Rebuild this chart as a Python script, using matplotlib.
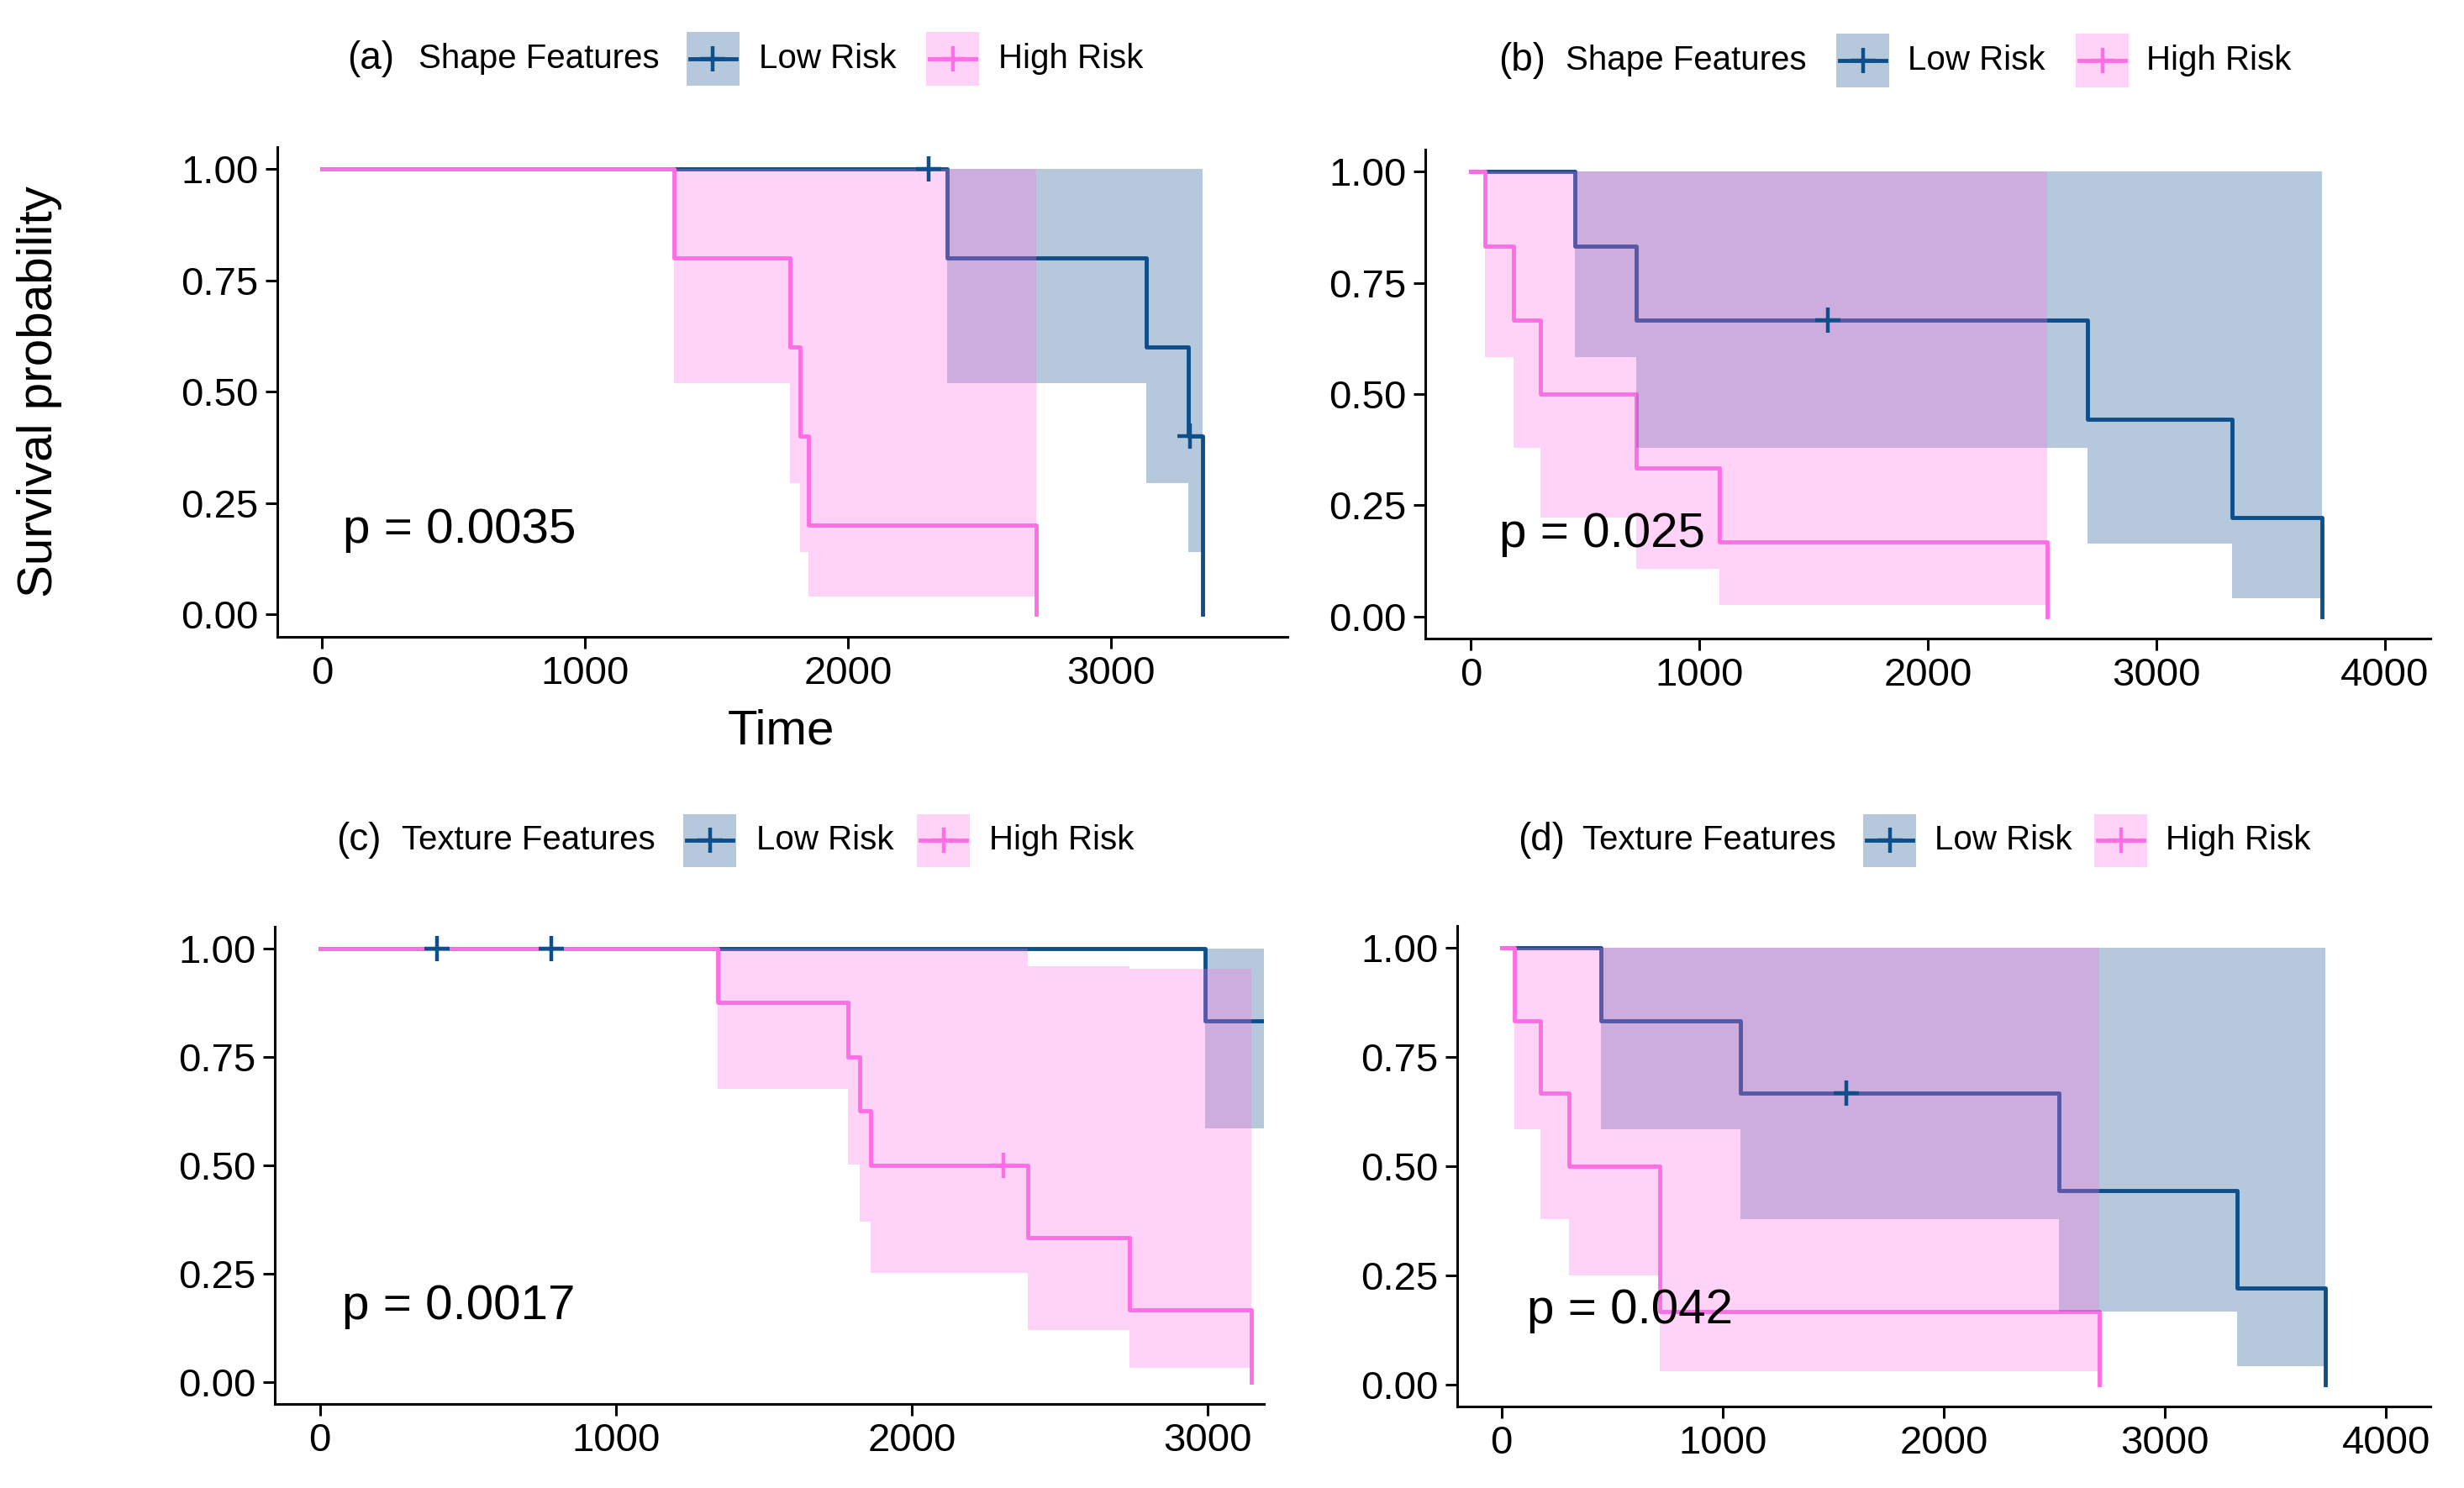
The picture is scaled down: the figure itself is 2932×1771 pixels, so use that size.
import matplotlib
matplotlib.use("Agg")
import matplotlib.pyplot as plt
from matplotlib.patches import Rectangle
from matplotlib.lines import Line2D

plt.rcParams['font.family'] = ['Liberation Sans', 'DejaVu Sans']

# ---- data (time, survival, lower CI, upper CI) ----
# (a) shape features
a_low_t = [0, 2378, 3134, 3295, 3348]
a_low_s = [1, 0.8, 0.6, 0.4, 0]
a_low_lo = [1, 0.52, 0.295, 0.14, 0]
a_low_hi = [1, 1, 1, 1, 0]
a_high_t = [0, 1339, 1779, 1818, 1850, 2715]
a_high_s = [1, 0.8, 0.6, 0.4, 0.2, 0]
a_high_lo = [1, 0.52, 0.295, 0.14, 0.04, 0]
a_high_hi = [1, 1, 1, 1, 1, 0]
a_low_cens_t = [2307, 3300]
a_low_cens_s = [1.0, 0.4]
a_high_cens_t = []
a_high_cens_s = []

# (b) shape features
b_low_t = [0, 454, 725, 2698, 3332, 3725]
b_low_s = [1, 0.833, 0.667, 0.444, 0.222, 0]
b_low_lo = [1, 0.583, 0.379, 0.164, 0.041, 0]
b_low_hi = [1, 1, 1, 1, 1, 0]
b_high_t = [0, 62, 186, 305, 725, 1087, 2522]
b_high_s = [1, 0.833, 0.667, 0.5, 0.333, 0.167, 0]
b_high_lo = [1, 0.583, 0.379, 0.223, 0.107, 0.025, 0]
b_high_hi = [1, 1, 1, 1, 1, 1, 0]
b_low_cens_t = [1563]
b_low_cens_s = [0.667]
b_high_cens_t = []
b_high_cens_s = []

# (c) texture features
c_low_t = [0, 2992, 3190]
c_low_s = [1, 0.833, 0.833]
c_low_lo = [1, 0.585, 0.585]
c_low_hi = [1, 1, 1]
c_high_t = [0, 1343, 1784, 1825, 1862, 2392, 2735, 3147]
c_high_s = [1, 0.875, 0.75, 0.625, 0.5, 0.333, 0.167, 0]
c_high_lo = [1, 0.676, 0.502, 0.37, 0.252, 0.12, 0.034, 0]
c_high_hi = [1, 1, 1, 1, 1, 0.959, 0.954, 0]
c_low_cens_t = [397, 783]
c_low_cens_s = [1.0, 1.0]
c_high_cens_t = [2311]
c_high_cens_s = [0.5]

# (d) texture features
d_low_t = [0, 450, 1080, 2520, 3325, 3724]
d_low_s = [1, 0.833, 0.667, 0.444, 0.222, 0]
d_low_lo = [1, 0.584, 0.378, 0.168, 0.043, 0]
d_low_hi = [1, 1, 1, 1, 1, 0]
d_high_t = [0, 57, 178, 307, 716, 2702]
d_high_s = [1, 0.833, 0.667, 0.5, 0.167, 0]
d_high_lo = [1, 0.584, 0.378, 0.25, 0.031, 0]
d_high_hi = [1, 1, 1, 1, 1, 0]
d_low_cens_t = [1558]
d_low_cens_s = [0.667]
d_high_cens_t = []
d_high_cens_s = []

panel_tags = ["(a)", "(b)", "(c)", "(d)"]
panel_titles = ["Shape Features", "Shape Features", "Texture Features", "Texture Features"]
group_labels = ["Low Risk", "High Risk"]
pvalues = ["p = 0.0035", "p = 0.025", "p = 0.0017", "p = 0.042"]
x_ticks = [[0, 1000, 2000, 3000], [0, 1000, 2000, 3000, 4000],
           [0, 1000, 2000, 3000], [0, 1000, 2000, 3000, 4000]]
y_ticks = [0, 0.25, 0.5, 0.75, 1.0]

LOW = '#0D4F8B'
HIGH = '#FF6EE5'
LW = 3.5

W, H = 2932, 1771
fig = plt.figure(figsize=(W / 100, H / 100), dpi=100)


def px_axes(l, r, t, b):
    return fig.add_axes([l / W, 1 - b / H, (r - l) / W, (b - t) / H])


# pixel boxes for each panel: left, right, top, bottom
boxes = [(330, 1532, 175, 758), (1696, 2892, 178, 760),
         (327, 1504, 1103, 1671), (1734, 2892, 1102, 1674)]
xlims = [(-169, 3671), (-200, 4200), (-152, 3190), (-200, 4200)]
pval_x = [80, 125, 76, 114]
pval_y = [0.19, 0.185, 0.175, 0.17]

panels = [
    (a_low_t, a_low_s, a_low_lo, a_low_hi, a_high_t, a_high_s, a_high_lo, a_high_hi,
     a_low_cens_t, a_low_cens_s, a_high_cens_t, a_high_cens_s),
    (b_low_t, b_low_s, b_low_lo, b_low_hi, b_high_t, b_high_s, b_high_lo, b_high_hi,
     b_low_cens_t, b_low_cens_s, b_high_cens_t, b_high_cens_s),
    (c_low_t, c_low_s, c_low_lo, c_low_hi, c_high_t, c_high_s, c_high_lo, c_high_hi,
     c_low_cens_t, c_low_cens_s, c_high_cens_t, c_high_cens_s),
    (d_low_t, d_low_s, d_low_lo, d_low_hi, d_high_t, d_high_s, d_high_lo, d_high_hi,
     d_low_cens_t, d_low_cens_s, d_high_cens_t, d_high_cens_s),
]

for i, p in enumerate(panels):
    lt, ls, llo, lhi, ht, hs, hlo, hhi, lct, lcs, hct, hcs = p
    ax = px_axes(*boxes[i])
    # lines first, then ribbons on top (as in the reference)
    ax.step(lt, ls, where='post', color=LOW, lw=LW, zorder=2)
    ax.step(ht, hs, where='post', color=HIGH, lw=LW, zorder=2)
    ax.fill_between(lt, llo, lhi, step='post', color=LOW, alpha=0.3, lw=0, zorder=3)
    ax.fill_between(ht, hlo, hhi, step='post', color=HIGH, alpha=0.3, lw=0, zorder=3)
    ax.plot(lct, lcs, ls='none', marker='+', ms=22, mew=3.2, color=LOW, zorder=4)
    ax.plot(hct, hcs, ls='none', marker='+', ms=22, mew=3.2, color=HIGH, zorder=4)

    ax.set_xlim(*xlims[i])
    ax.set_ylim(-0.05, 1.05)
    ax.set_xticks(x_ticks[i])
    ax.set_yticks(y_ticks)
    ax.set_yticklabels(['%.2f' % v for v in y_ticks])
    for s in ['top', 'right']:
        ax.spines[s].set_visible(False)
    for s in ['left', 'bottom']:
        ax.spines[s].set_linewidth(2.2)
    ax.tick_params(labelsize=34, length=10, width=2.2, pad=6, colors='black')
    ax.text(pval_x[i], pval_y[i], pvalues[i], fontsize=42, ha='left', va='center')

# ---- legends above each panel ----
leg_y = [70, 72, 1000, 1000]
leg_pos = [  # tag, title, key1, label1, key2, label2 (left edges in px)
    (413, 498, 817, 903, 1102, 1188),
    (1783, 1863, 2185, 2270, 2470, 2554),
    (400, 478, 813, 900, 1091, 1177),
    (1806, 1883, 2217, 2302, 2492, 2577),
]
for i in range(4):
    y = 1 - leg_y[i] / H
    tx, ti, k1, l1, k2, l2 = leg_pos[i]
    fig.text(tx / W, y, panel_tags[i], fontsize=33, ha='left', va='center')
    fig.text(ti / W, y, panel_titles[i], fontsize=29, ha='left', va='center')
    for kx, lx, col, lab in [(k1, l1, LOW, group_labels[0]), (k2, l2, HIGH, group_labels[1])]:
        fig.patches.append(Rectangle((kx / W, y - 31.5 / H), 63 / W, 63 / H,
                                     transform=fig.transFigure, color=col, alpha=0.3, lw=0))
        fig.lines.append(Line2D([(kx + 4) / W, (kx + 59) / W], [y, y], transform=fig.transFigure,
                                color=col, lw=LW))
        fig.lines.append(Line2D([(kx + 31.5) / W], [y], transform=fig.transFigure, color=col,
                                marker='+', ms=22, mew=3.2))
        fig.text(lx / W, y, lab, fontsize=29, ha='left', va='center')

fig.text(47 / W, 1 - 466 / H, "Survival probability", fontsize=42, rotation=90,
         ha='center', va='center')
fig.text(930 / W, 1 - 870 / H, "Time", fontsize=42, ha='center', va='center')

fig.savefig('out.png', dpi=100)
